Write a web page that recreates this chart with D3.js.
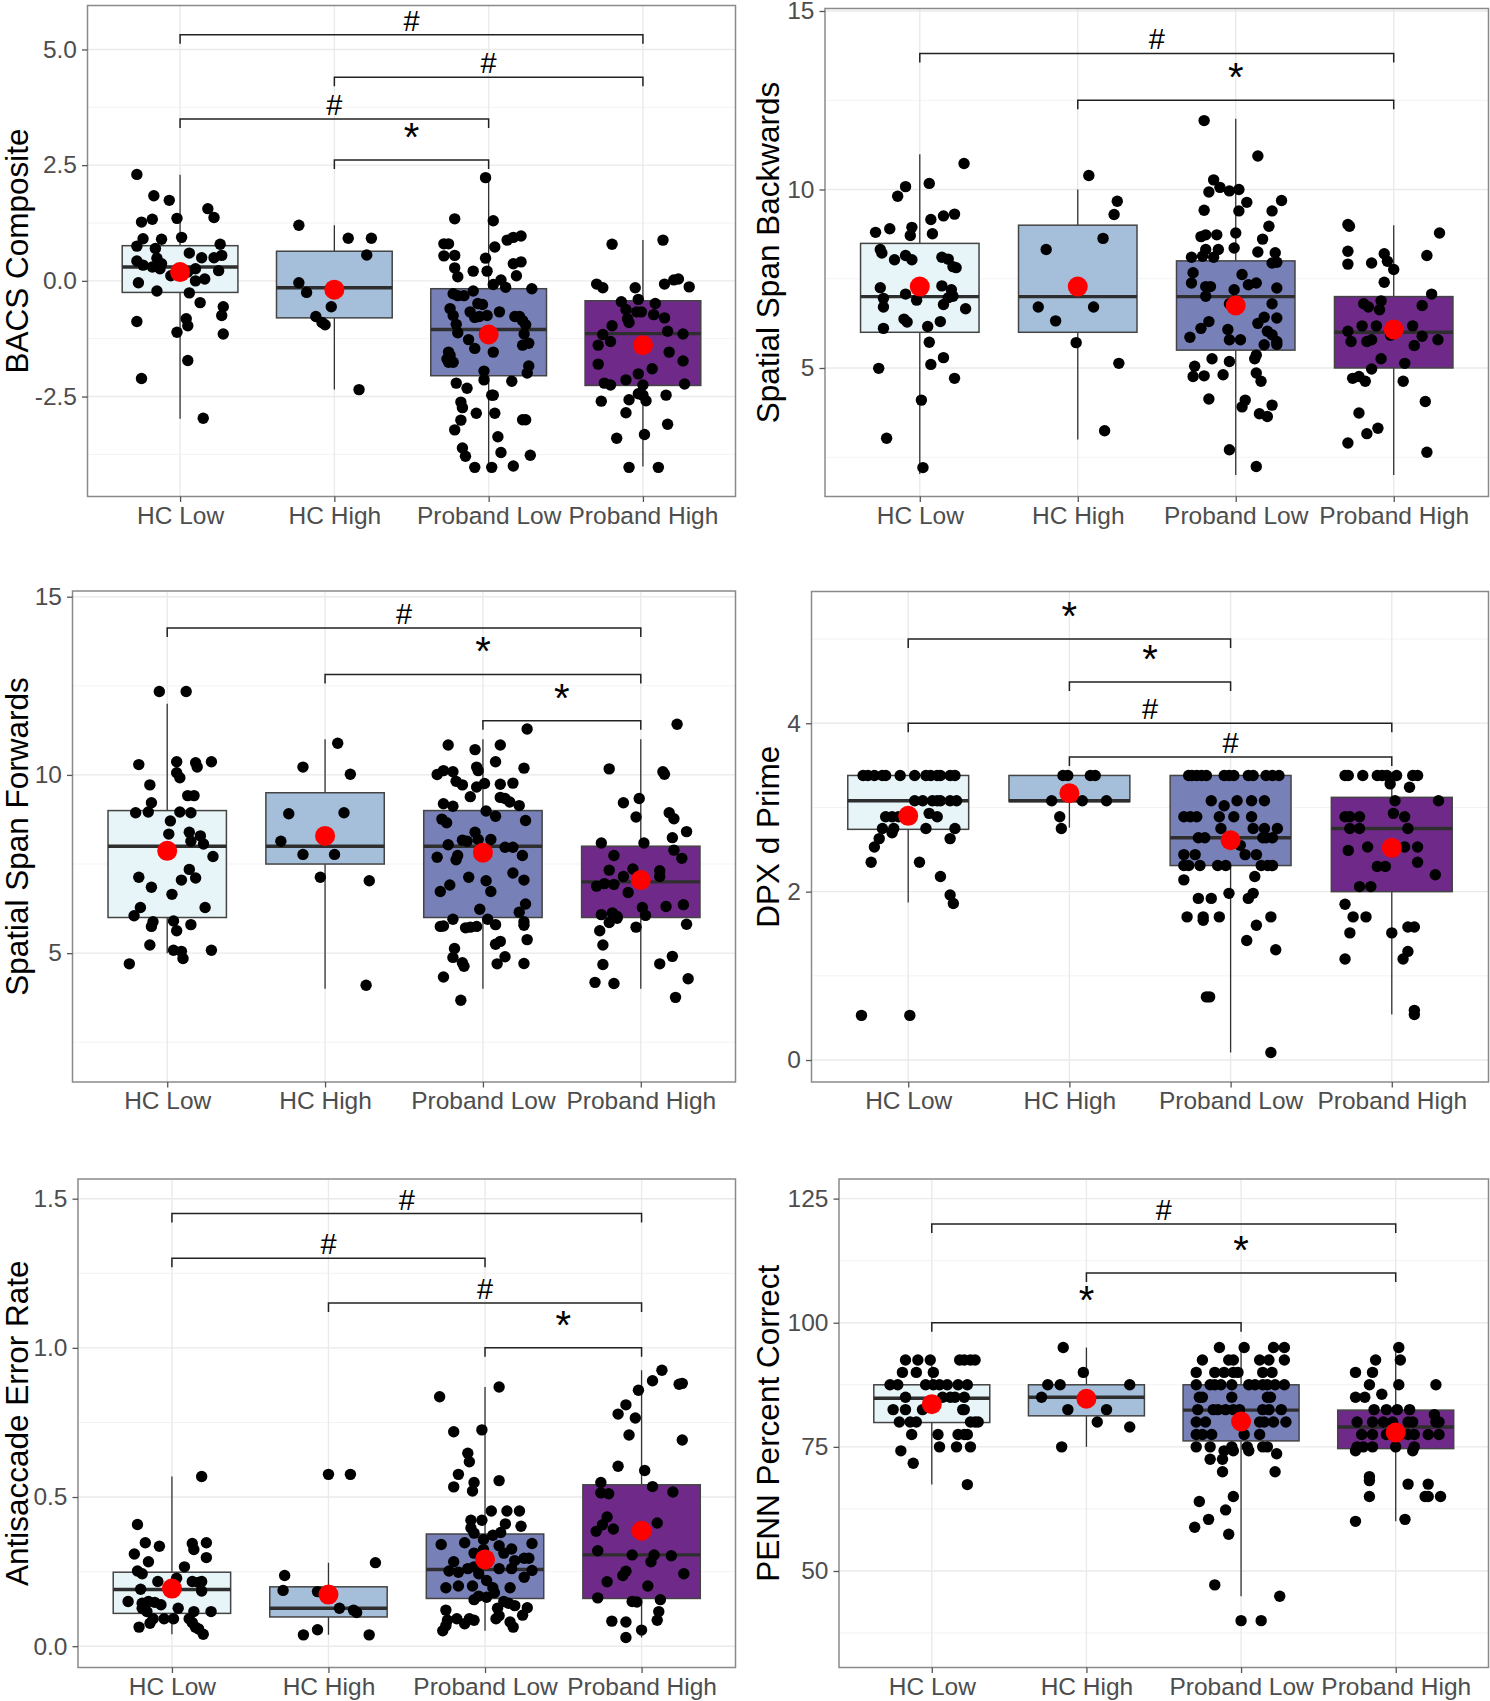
<!DOCTYPE html>
<html>
<head>
<meta charset="utf-8">
<script src="https://cdn.jsdelivr.net/npm/d3@7"></script>
<style>
html,body{margin:0;padding:0;background:#fff;}
svg{display:block;font-family:"Liberation Sans",Arial,Helvetica,sans-serif;}
</style>
</head>
<body>
<svg id="chart" width="1490" height="1701"></svg>
<script>
// ---------------- DATA ----------------
const categories = ["HC Low", "HC High", "Proband Low", "Proband High"];
const groupFills = ["#E7F4F8", "#A5BFDB", "#7880B8", "#6F2A89"];

// Panel titles
const panelTitles = ["BACS Composite", "Spatial Span Backwards", "Spatial Span Forwards",
  "DPX d Prime", "Antisaccade Error Rate", "PENN Percent Correct"];

// Box stats per group: [lowerWhisker, q1, median, q3, upperWhisker, mean]
// Points per group: [jitter (in category units), value]

// ---- Panel 1: BACS Composite ----
const bacsDomain = [-4.66, 5.95];
const bacsTicks = [-2.5, 0, 2.5, 5];
const bacsTickLabels = ["-2.5", "0.0", "2.5", "5.0"];
const bacsBoxStats = [
  [-2.98, -0.25, 0.30, 0.76, 2.29, 0.19],
  [-2.35, -0.80, -0.15, 0.64, 1.20, -0.19],
  [-4.01, -2.05, -1.05, -0.17, 2.21, -1.16],
  [-4.01, -2.26, -1.14, -0.43, 0.88, -1.39]
];
const bacsBrackets = [[0, 3, 5.32, "#"], [1, 3, 4.40, "#"], [0, 2, 3.50, "#"], [1, 2, 2.61, "*"]];
const bacsHCLow = [[-0.28,2.30],[-0.17,1.84],[-0.07,1.74],[0.18,1.56],[0.22,1.37],[-0.25,1.27],[-0.18,1.33],[-0.02,1.35],
  [-0.24,0.91],[-0.12,0.90],[0.01,0.94],[-0.28,0.75],[-0.16,0.70],[0.26,0.79],[0.06,0.60],[-0.28,0.43],
  [-0.15,0.49],[0.14,0.50],[0.22,0.50],[0.27,0.55],[-0.24,0.34],[-0.18,0.30],[-0.12,0.37],[-0.13,0.26],
  [0.25,0.22],[-0.27,-0.04],[-0.15,-0.22],[0.06,-0.26],[0.10,0.00],[0.16,0.04],[0.13,-0.47],[0.28,-0.56],
  [0.27,-0.75],[-0.28,-0.88],[0.04,-0.82],[0.05,-0.97],[-0.02,-1.11],[0.28,-1.15],[0.05,-1.72],[-0.25,-2.11],
  [0.15,-2.97],[-0.06,0.11],[0.05,0.19],[0.10,0.26]];
const bacsHCHigh = [[-0.23,1.20],[0.09,0.92],[0.24,0.92],[0.21,0.56],[-0.23,-0.04],[-0.18,-0.25],[-0.12,-0.77],
  [-0.08,-0.90],[-0.06,-0.95],[-0.02,-0.56],[0.16,-2.35]];
const bacsProbandLow = [[-0.02,2.23],[-0.22,1.34],[0.03,1.30],[-0.29,0.80],[-0.26,0.80],[0.04,0.73],[0.12,0.88],[0.16,0.94],
  [0.21,0.97],[-0.29,0.54],[-0.22,0.55],[-0.02,0.49],[-0.10,0.21],[-0.01,0.21],[0.16,0.37],[0.21,0.41],
  [-0.22,0.28],[-0.20,0.09],[0.18,0.11],[0.08,0.02],[0.03,-0.08],[0.11,-0.14],[0.28,-0.17],[-0.10,-0.22],
  [-0.23,-0.28],[-0.20,-0.32],[-0.16,-0.32],[-0.07,-0.49],[-0.04,-0.51],[-0.12,-0.67],[-0.25,-0.60],[-0.23,-0.75],
  [-0.09,-0.79],[-0.06,-0.77],[-0.01,-0.75],[0.07,-0.67],[0.17,-0.77],[0.20,-0.77],[0.22,-0.86],[0.24,-0.95],
  [-0.21,-0.94],[-0.20,-1.12],[0.23,-1.15],[-0.13,-1.27],[0.22,-1.39],[0.26,-1.35],[-0.09,-1.46],[-0.26,-1.54],
  [-0.25,-1.61],[-0.27,-1.69],[-0.26,-1.76],[-0.23,-1.76],[0.03,-1.54],[0.26,-1.84],[-0.03,-1.95],[0.25,-1.99],
  [-0.03,-2.14],[0.15,-2.17],[-0.21,-2.21],[-0.14,-2.32],[0.02,-2.47],[0.03,-2.47],[-0.18,-2.62],[-0.17,-2.74],
  [-0.08,-2.86],[0.04,-2.86],[0.22,-3.00],[0.24,-3.00],[-0.18,-3.01],[-0.22,-3.22],[0.06,-3.37],[-0.17,-3.61],
  [-0.15,-3.79],[0.08,-3.71],[0.27,-3.77],[-0.09,-4.03],[0.02,-4.03],[0.16,-4.00]];
const bacsProbandHigh = [[-0.20,0.79],[0.13,0.88],[-0.30,-0.07],[-0.26,-0.15],[-0.05,-0.15],[0.14,-0.07],[0.20,0.02],[0.23,0.04],
  [0.30,-0.13],[-0.14,-0.45],[-0.03,-0.40],[0.08,-0.49],[-0.11,-0.62],[-0.09,-0.90],[-0.04,-0.67],[-0.01,-0.67],
  [0.07,-0.73],[0.14,-0.80],[-0.26,-1.16],[-0.21,-1.31],[-0.29,-1.39],[-0.20,-0.97],[-0.10,-0.82],[0.16,-1.09],
  [0.26,-1.15],[0.17,-1.54],[-0.29,-1.80],[0.26,-1.73],[0.06,-1.90],[-0.03,-2.01],[-0.11,-2.14],[-0.25,-2.21],
  [-0.21,-2.25],[0.00,-2.25],[0.27,-2.23],[-0.03,-2.44],[0.00,-2.47],[0.02,-2.59],[0.15,-2.47],[-0.27,-2.60],
  [-0.09,-2.57],[-0.11,-2.85],[0.16,-3.10],[-0.17,-3.40],[0.01,-3.32],[-0.09,-4.03],[0.10,-4.03]];

// ---- Panel 2: Spatial Span Backwards ----
const ssbDomain = [1.40, 15.07];
const ssbTicks = [5, 10, 15];
const ssbTickLabels = ["5", "10", "15"];
const ssbBoxStats = [
  [2.03, 6.0, 7.0, 8.49, 10.99, 7.28],
  [3.0, 6.0, 7.0, 9.0, 10.0, 7.28],
  [2.0, 5.5, 7.0, 8.0, 11.98, 6.75],
  [2.0, 5.0, 6.0, 7.0, 9.0, 6.08]
];
const ssbBrackets = [[0, 3, 13.81, "#"], [1, 3, 12.50, "*"]];
const ssbHCLow = [[0.28,10.73],[0.06,10.17],[-0.09,10.08],[-0.14,9.81],[-0.28,8.80],[-0.19,8.90],[-0.05,8.94],[-0.06,8.71],
  [0.08,8.76],[0.07,9.16],[0.15,9.26],[0.22,9.31],[-0.25,8.32],[-0.24,8.22],[-0.16,8.03],[-0.09,8.15],
  [-0.05,8.03],[0.14,8.10],[0.18,8.05],[0.21,7.84],[0.23,7.81],[-0.25,7.25],[-0.09,7.07],[-0.02,6.90],
  [0.14,7.30],[0.20,7.19],[0.21,7.01],[0.18,6.97],[0.15,6.78],[-0.23,6.95],[-0.23,6.71],[0.29,6.66],
  [-0.10,6.37],[-0.08,6.29],[0.13,6.30],[-0.23,6.11],[0.05,6.16],[0.06,5.72],[0.07,5.10],[0.15,5.29],
  [-0.26,4.99],[0.22,4.71],[0.01,4.10],[-0.21,3.03],[0.02,2.21]];
const ssbHCHigh = [[0.07,10.39],[0.25,9.67],[0.23,9.30],[0.16,8.63],[-0.20,8.32],[-0.25,6.71],[0.10,6.71],[-0.14,6.32],
  [-0.01,5.71],[0.26,5.13],[0.17,3.24]];
const ssbProbandLow = [[-0.20,11.93],[0.14,10.94],[-0.14,10.27],[-0.10,10.06],[-0.17,9.93],[-0.04,9.96],[0.02,10.00],[0.07,9.64],
  [0.29,9.69],[-0.20,9.42],[0.02,9.40],[0.23,9.40],[0.21,8.97],[-0.22,8.68],[-0.19,8.73],[-0.12,8.73],
  [0.00,8.78],[0.17,8.61],[-0.19,8.32],[-0.11,8.32],[-0.01,8.36],[0.14,8.25],[0.25,8.23],[-0.28,8.10],
  [-0.21,8.13],[-0.14,8.10],[0.23,7.94],[0.26,7.96],[-0.27,7.67],[0.04,7.62],[-0.28,7.38],[-0.19,7.28],
  [-0.16,7.28],[-0.01,7.19],[0.08,7.33],[0.13,7.38],[0.26,7.24],[-0.19,7.01],[0.23,6.80],[-0.04,6.80],
  [-0.17,6.30],[-0.22,6.11],[0.14,6.25],[0.18,6.42],[0.26,6.40],[0.20,6.03],[0.23,5.93],[0.26,5.74],
  [0.18,5.65],[-0.05,6.08],[-0.29,5.86],[-0.04,5.79],[0.03,5.79],[0.26,5.66],[-0.15,5.26],[-0.04,5.18],
  [0.12,5.26],[0.13,5.36],[-0.26,5.05],[-0.27,4.76],[-0.20,4.78],[-0.08,4.81],[0.13,4.86],[0.16,4.63],
  [-0.17,4.13],[0.06,4.10],[0.04,3.91],[0.15,3.72],[0.20,3.64],[0.23,3.96],[-0.04,2.71],[0.13,2.24]];
const ssbProbandHigh = [[-0.29,9.02],[-0.28,8.97],[0.29,8.78],[-0.29,8.27],[-0.29,7.91],[-0.14,7.94],[-0.06,8.20],[-0.04,7.99],
  [0.00,7.76],[0.21,8.15],[-0.06,7.40],[-0.19,6.80],[-0.16,6.71],[-0.09,6.63],[-0.08,6.88],[0.24,7.07],
  [0.18,6.75],[-0.29,6.03],[-0.20,6.18],[-0.11,6.18],[0.12,6.18],[-0.27,5.74],[-0.17,5.74],[-0.14,5.79],
  [-0.02,5.92],[0.18,5.89],[0.28,5.79],[0.13,5.63],[-0.08,5.26],[-0.14,4.97],[0.07,5.13],[-0.26,4.71],
  [-0.22,4.76],[-0.18,4.63],[0.06,4.63],[0.20,4.06],[-0.22,3.74],[-0.17,3.16],[-0.10,3.31],[-0.29,2.90],
  [0.21,2.64]];

// ---- Panel 3: Spatial Span Forwards ----
const ssfDomain = [1.385, 15.16];
const ssfTicks = [5, 10, 15];
const ssfTickLabels = ["5", "10", "15"];
const ssfBoxStats = [
  [5.0, 6.0, 8.0, 9.0, 12.0, 7.87],
  [4.0, 7.5, 8.0, 9.5, 11.0, 8.29],
  [4.0, 6.0, 8.0, 9.0, 11.0, 7.82],
  [4.0, 6.0, 7.0, 8.0, 11.0, 7.05]
];
const ssfBrackets = [[0, 3, 14.12, "#"], [1, 3, 12.82, "*"], [2, 3, 11.52, "*"]];
const ssfHCLow = [[-0.05,12.34],[0.12,12.34],[-0.18,10.29],[0.06,10.37],[0.18,10.34],[0.28,10.37],[0.19,10.22],[0.06,10.06],
  [0.08,9.92],[-0.11,9.72],[0.13,9.42],[0.17,9.42],[-0.10,9.22],[-0.20,8.94],[-0.12,8.96],[0.08,8.96],
  [0.15,8.94],[0.02,8.71],[0.01,8.34],[0.14,8.39],[0.21,8.29],[0.15,8.14],[0.23,8.06],[0.29,7.71],
  [0.14,7.35],[-0.18,7.13],[0.09,7.05],[0.18,7.11],[-0.10,6.85],[0.03,6.65],[-0.17,6.28],[0.24,6.28],
  [-0.21,6.05],[-0.09,5.88],[-0.10,5.75],[0.04,5.90],[0.06,5.63],[0.15,5.80],[-0.11,5.23],[0.04,5.08],
  [0.09,5.05],[0.10,4.85],[0.28,5.08],[-0.24,4.70]];
const ssfHCHigh = [[0.08,10.89],[-0.14,10.22],[0.16,10.02],[-0.23,8.91],[0.12,8.94],[-0.28,8.14],[-0.14,7.77],[0.06,7.77],
  [-0.03,7.13],[0.28,7.03],[0.26,4.10]];
const ssfProbandLow = [[0.28,11.29],[-0.22,10.84],[0.11,10.84],[-0.05,10.71],[0.08,10.37],[-0.29,10.01],[-0.25,10.12],[-0.19,10.09],
  [-0.04,10.22],[-0.03,10.12],[0.26,10.19],[-0.17,9.82],[-0.13,9.72],[-0.04,9.66],[0.01,9.76],[0.11,9.74],
  [0.19,9.77],[-0.08,9.39],[0.11,9.37],[0.14,9.34],[0.17,9.24],[-0.25,9.19],[-0.19,9.12],[0.23,9.14],
  [0.02,8.99],[0.08,8.84],[-0.26,8.76],[-0.23,8.66],[0.27,8.72],[-0.05,8.39],[-0.13,8.17],[-0.10,8.14],
  [-0.03,8.19],[0.05,8.19],[0.14,7.97],[0.19,7.97],[-0.22,8.04],[-0.16,7.74],[-0.17,7.62],[0.25,7.74],
  [-0.29,7.69],[0.19,7.25],[-0.09,7.13],[0.02,7.03],[0.26,7.05],[-0.21,6.91],[-0.27,6.73],[0.05,6.73],
  [0.27,6.38],[0.23,6.15],[-0.02,6.23],[0.03,5.95],[0.08,5.80],[0.26,5.78],[0.26,5.88],[-0.27,5.75],
  [-0.25,5.76],[-0.19,5.95],[-0.11,5.71],[-0.08,5.73],[-0.04,5.75],[0.08,5.25],[0.11,5.33],[0.28,5.38],
  [-0.18,5.13],[-0.19,4.88],[-0.13,4.73],[-0.12,4.63],[0.14,4.90],[0.09,4.70],[0.26,4.71],[-0.25,4.33],
  [-0.14,3.68]];
const ssfProbandHigh = [[0.23,11.42],[-0.20,10.17],[0.14,10.09],[0.15,10.02],[-0.11,9.22],[-0.01,9.34],[-0.03,8.82],[0.18,8.94],
  [0.21,8.77],[0.29,8.41],[0.20,8.24],[-0.25,8.09],[0.02,8.09],[-0.17,7.74],[0.21,7.89],[0.26,7.66],
  [-0.20,7.33],[-0.05,7.36],[0.12,7.31],[-0.23,6.95],[-0.17,6.93],[-0.11,7.15],[-0.08,6.70],[-0.28,6.88],
  [0.12,7.15],[-0.25,6.08],[-0.18,6.13],[-0.15,6.03],[0.01,6.28],[0.03,6.06],[0.16,6.31],[0.27,6.36],
  [-0.20,5.86],[-0.15,5.98],[-0.03,5.73],[-0.26,5.63],[0.29,5.81],[-0.24,5.23],[-0.24,4.68],[0.12,4.70],
  [0.20,4.91],[-0.29,4.18],[-0.17,4.15],[0.30,4.28],[0.22,3.76]];

// ---- Panel 4: DPX d Prime ----
const dpxDomain = [-0.261, 5.565];
const dpxTicks = [0, 2, 4];
const dpxTickLabels = ["0", "2", "4"];
const dpxBoxStats = [
  [1.87, 2.74, 3.08, 3.38, 3.38, 2.90],
  [2.76, 3.07, 3.08, 3.38, 3.38, 3.17],
  [0.09, 2.31, 2.64, 3.38, 3.38, 2.61],
  [0.54, 2.00, 2.75, 3.12, 3.38, 2.52]
];
const dpxBrackets = [[0, 2, 5.00, "*"], [1, 2, 4.49, "*"], [0, 3, 4.00, "#"], [1, 3, 3.60, "#"]];
const dpxHCLow = [[-0.28,3.38],[-0.25,3.38],[-0.21,3.38],[-0.16,3.38],[-0.14,3.38],[-0.05,3.38],[0.04,3.38],[0.11,3.38],
  [0.14,3.38],[0.18,3.38],[0.20,3.38],[0.26,3.38],[0.29,3.38],[0.04,3.08],[0.09,3.08],[0.15,3.08],
  [0.18,3.08],[0.20,3.08],[0.26,3.08],[0.30,3.08],[-0.14,2.89],[-0.10,2.89],[-0.06,2.89],[0.18,2.89],
  [0.13,2.93],[-0.16,2.75],[-0.09,2.75],[0.11,2.75],[0.29,2.75],[-0.10,2.70],[-0.18,2.63],[-0.21,2.53],
  [0.26,2.63],[-0.23,2.35],[0.07,2.35],[0.20,2.18],[0.26,1.96],[0.28,1.86],[-0.29,0.53],[0.01,0.53]];
const dpxHCHigh = [[-0.04,3.38],[-0.01,3.38],[0.13,3.38],[0.16,3.38],[-0.11,3.08],[0.08,3.08],[0.23,3.08],[-0.06,2.89],
  [-0.05,2.75]];
const dpxProbandLow = [[-0.26,3.38],[-0.24,3.38],[-0.21,3.38],[-0.18,3.38],[-0.15,3.38],[-0.04,3.38],[-0.01,3.38],[0.02,3.38],
  [0.11,3.38],[0.14,3.38],[0.22,3.38],[0.26,3.38],[0.30,3.38],[-0.12,3.08],[0.04,3.08],[0.13,3.08],
  [0.21,3.08],[-0.29,2.89],[-0.25,2.89],[-0.21,2.89],[-0.07,2.89],[0.02,2.89],[0.13,2.89],[-0.04,3.02],
  [-0.06,2.75],[0.14,2.75],[0.21,2.75],[0.29,2.75],[-0.20,2.64],[-0.16,2.64],[0.20,2.64],[0.26,2.64],
  [0.22,2.64],[0.06,2.55],[-0.29,2.44],[-0.22,2.44],[0.09,2.44],[0.16,2.44],[-0.29,2.31],[-0.26,2.31],
  [-0.19,2.31],[-0.08,2.31],[-0.03,2.31],[0.19,2.31],[0.23,2.31],[0.26,2.31],[0.15,2.18],[-0.29,2.14],
  [-0.01,1.98],[0.14,1.98],[-0.20,1.92],[-0.12,1.92],[0.11,1.92],[-0.27,1.70],[-0.17,1.70],[-0.07,1.70],
  [0.25,1.70],[-0.17,1.66],[0.16,1.60],[0.10,1.42],[0.28,1.31],[-0.15,0.75],[-0.13,0.75],[0.25,0.09]];
const dpxProbandHigh = [[-0.29,3.38],[-0.27,3.38],[-0.18,3.38],[-0.09,3.38],[-0.06,3.38],[-0.03,3.38],[0.03,3.38],[0.13,3.38],
  [0.16,3.38],[-0.01,3.28],[0.11,3.24],[0.02,3.08],[0.29,3.08],[-0.29,2.89],[-0.26,2.89],[-0.20,2.89],
  [0.08,2.89],[0.01,2.93],[-0.26,2.75],[-0.20,2.75],[0.10,2.75],[-0.15,2.53],[0.08,2.53],[0.16,2.53],
  [-0.27,2.49],[0.16,2.35],[-0.09,2.30],[-0.04,2.30],[0.27,2.20],[-0.20,2.06],[-0.13,2.06],[-0.29,1.85],
  [-0.24,1.70],[-0.16,1.70],[0.10,1.58],[0.14,1.58],[-0.26,1.51],[0.00,1.51],[0.10,1.29],[-0.29,1.20],
  [0.07,1.20],[0.14,0.59],[0.14,0.54]];

// ---- Panel 5: Antisaccade Error Rate ----
const antiDomain = [-0.0714, 1.566];
const antiTicks = [0, 0.5, 1.0, 1.5];
const antiTickLabels = ["0.0", "0.5", "1.0", "1.5"];
const antiBoxStats = [
  [0.040, 0.110, 0.190, 0.248, 0.569, 0.193],
  [0.038, 0.098, 0.127, 0.199, 0.280, 0.173],
  [0.052, 0.160, 0.257, 0.376, 0.869, 0.291],
  [0.029, 0.160, 0.306, 0.541, 0.925, 0.387]
];
const antiBrackets = [[0, 3, 1.45, "#"], [0, 2, 1.30, "#"], [1, 3, 1.15, "#"], [2, 3, 1.00, "*"]];
const antiHCLow = [[0.19,0.569],[-0.22,0.408],[-0.17,0.347],[-0.08,0.335],[0.13,0.344],[0.22,0.347],[0.14,0.324],[-0.24,0.309],
  [0.22,0.297],[-0.15,0.283],[0.08,0.266],[-0.22,0.252],[-0.19,0.243],[-0.09,0.217],[0.03,0.228],[0.13,0.217],
  [0.19,0.217],[0.17,0.214],[-0.20,0.191],[0.19,0.185],[-0.28,0.150],[-0.19,0.144],[-0.15,0.150],[-0.11,0.147],
  [-0.07,0.139],[-0.19,0.127],[-0.16,0.116],[0.04,0.127],[0.14,0.116],[0.25,0.116],[-0.12,0.092],[-0.05,0.092],
  [0.01,0.092],[0.11,0.092],[0.13,0.079],[-0.21,0.064],[-0.14,0.077],[0.15,0.064],[0.17,0.058],[0.20,0.040]];
const antiHCHigh = [[0.00,0.576],[0.14,0.576],[0.30,0.280],[-0.28,0.237],[-0.29,0.187],[-0.07,0.183],[0.07,0.127],[0.16,0.121],
  [0.18,0.113],[-0.07,0.055],[-0.16,0.038],[0.26,0.038]];
const antiProbandLow = [[0.09,0.869],[-0.29,0.836],[-0.20,0.719],[-0.02,0.725],[-0.11,0.647],[-0.10,0.618],[-0.17,0.576],[-0.07,0.549],
  [-0.20,0.534],[-0.08,0.520],[0.09,0.555],[0.04,0.453],[0.14,0.453],[0.22,0.453],[-0.09,0.422],[-0.02,0.422],
  [0.13,0.410],[0.23,0.402],[-0.09,0.396],[-0.07,0.379],[0.05,0.372],[0.10,0.381],[-0.28,0.341],[-0.13,0.347],
  [-0.01,0.358],[0.09,0.337],[0.30,0.344],[-0.01,0.324],[-0.07,0.312],[0.12,0.312],[0.17,0.326],[0.19,0.287],
  [0.25,0.295],[0.28,0.295],[-0.20,0.283],[-0.11,0.260],[-0.23,0.252],[-0.17,0.248],[-0.07,0.266],[-0.04,0.243],
  [0.09,0.260],[0.17,0.260],[0.30,0.254],[0.25,0.231],[-0.25,0.196],[-0.17,0.202],[-0.08,0.202],[0.01,0.220],
  [0.05,0.196],[0.16,0.196],[0.06,0.179],[-0.04,0.168],[-0.07,0.156],[0.01,0.164],[0.12,0.150],[0.19,0.136],
  [0.27,0.129],[-0.25,0.121],[0.08,0.127],[0.15,0.144],[-0.24,0.087],[-0.18,0.092],[-0.13,0.075],[-0.07,0.087],
  [-0.10,0.092],[0.07,0.092],[0.16,0.081],[0.18,0.064],[0.24,0.104],[-0.25,0.069],[-0.27,0.052],[0.09,0.102]];
const antiProbandHigh = [[0.13,0.925],[0.07,0.890],[0.26,0.881],[0.24,0.878],[-0.02,0.858],[-0.10,0.809],[-0.15,0.778],[-0.04,0.765],
  [-0.08,0.708],[0.26,0.691],[-0.15,0.603],[0.02,0.589],[-0.26,0.549],[0.07,0.535],[-0.26,0.514],[-0.21,0.511],
  [0.20,0.517],[-0.22,0.433],[0.10,0.413],[-0.25,0.407],[-0.29,0.385],[-0.18,0.393],[-0.28,0.320],[-0.06,0.306],
  [0.08,0.306],[0.19,0.303],[0.06,0.283],[0.27,0.243],[-0.10,0.251],[-0.12,0.237],[-0.22,0.216],[0.04,0.202],
  [-0.28,0.162],[-0.06,0.150],[-0.03,0.148],[0.12,0.156],[0.11,0.116],[0.10,0.087],[-0.19,0.084],[-0.10,0.081],
  [0.00,0.054],[-0.10,0.029]];

// ---- Panel 6: PENN Percent Correct ----
const pennDomain = [30.56, 128.95];
const pennTicks = [50, 75, 100, 125];
const pennTickLabels = ["50", "75", "100", "125"];
const pennBoxStats = [
  [67.4, 79.9, 84.8, 87.5, 92.5, 83.6],
  [75.0, 81.25, 85.0, 87.5, 95.0, 84.7],
  [44.9, 76.2, 82.4, 87.5, 95.0, 80.1],
  [60.0, 74.65, 79.0, 82.4, 95.0, 77.9]
];
const pennBrackets = [[0, 3, 119.9, "#"], [1, 3, 110.0, "*"], [0, 2, 100.0, "*"]];
const pennHCLow = [[-0.17,92.5],[-0.09,92.5],[-0.01,92.5],[0.18,92.5],[0.21,92.5],[0.25,92.5],[0.28,92.5],
  [-0.19,90],[-0.10,90],[0.01,90],
  [-0.27,87.5],[-0.22,87.5],[-0.04,87.5],[0.01,87.5],[0.05,87.5],[0.10,87.5],[0.17,87.5],[0.23,87.5],
  [-0.17,85],[0.07,85],[0.12,85],[0.15,85],[0.21,85],
  [-0.25,82.5],[-0.17,82.5],[-0.06,82.5],[0.20,82.5],[0.21,82.5],
  [-0.21,80],[-0.14,80],[-0.10,80],[0.25,80],[0.28,80],[0.30,80],
  [-0.13,77.5],[0.04,77.5],[0.17,77.5],[0.21,77.5],[0.23,77.5],
  [0.05,75],[0.16,75],[0.25,75],[-0.20,74.2],[-0.12,71.7],[0.23,67.4]];
const pennHCHigh = [[-0.15,95],[-0.02,90],[-0.25,87.5],[-0.17,87.5],[0.28,87.5],[-0.29,85],[-0.12,82.5],[0.13,82.5],
  [0.07,80],[0.28,79],[-0.16,75],[0.00,84.7]];
const pennProbandLow = [[-0.14,95],[0.02,95],[0.21,95],[0.28,95],
  [-0.25,92.5],[-0.08,92.5],[-0.05,92.5],[0.12,92.5],[0.18,92.5],[0.28,92.5],
  [-0.29,90],[-0.17,90],[-0.11,90],[-0.05,90],[-0.02,90],[0.14,90],[0.20,90],
  [-0.29,87.5],[-0.20,87.5],[-0.17,87.5],[-0.13,87.5],[-0.06,87.5],[0.05,87.5],[0.09,87.5],[0.14,87.5],[0.17,87.5],[0.22,87.5],[0.28,87.5],
  [-0.27,85],[-0.25,85],[-0.06,85],[0.17,85],[0.19,85],
  [-0.28,82.5],[-0.18,82.5],[-0.15,82.5],[-0.10,82.5],[-0.05,82.5],[-0.01,82.5],[0.14,82.5],[0.18,82.5],[0.26,82.5],
  [-0.29,80],[-0.23,80],[0.12,80],[0.15,80],[0.21,80],[0.29,80],
  [-0.29,77.5],[-0.25,77.5],[-0.19,77.5],[0.02,77.5],[0.12,77.5],
  [-0.29,75],[-0.20,75],[-0.06,75],[0.04,75],[0.14,75],[0.17,75],
  [-0.11,74.2],[-0.05,74.2],[0.05,74.2],[0.23,73.6],[-0.20,72.5],[-0.12,72.5],[-0.12,70],[0.22,70],
  [-0.05,65],[-0.27,64],[-0.10,62.3],[-0.21,60.4],[-0.30,58.8],[-0.08,57.4],[-0.17,47.2],[0.25,44.9],
  [0.00,40],[0.13,40]];
const pennProbandHigh = [[0.02,95],[-0.13,92.5],[0.03,92.5],[-0.26,90],[-0.15,90],[-0.17,87.5],[0.02,87.5],[0.26,87.5],
  [-0.26,85],[-0.20,85],[-0.09,85.6],[-0.14,82.5],[-0.06,82.5],[0.01,82.5],[0.09,82.5],[0.25,81.5],
  [-0.25,80],[-0.15,80],[-0.08,80],[-0.02,80],[0.08,80],[0.11,80],[0.26,80],[0.28,80],
  [-0.22,77.5],[-0.15,77.5],[-0.06,77.5],[-0.02,77.5],[0.03,77.5],[0.08,77.5],[0.12,77.5],[0.21,77.5],[0.28,77.5],
  [-0.25,75],[-0.21,75],[-0.15,75],[0.00,75],[0.12,75],[-0.26,74.2],[0.11,74.2],
  [-0.17,69],[-0.17,68.2],[0.08,67.5],[0.21,67.5],[-0.17,65],[0.19,65],[0.21,65],[0.29,65],
  [0.06,60.4],[-0.26,60]];

// ---------------- PANEL TABLE (built from the arrays) ----------------
const panels = [
  {title: panelTitles[0], domain: bacsDomain, ticks: bacsTicks, tickLabels: bacsTickLabels, box: bacsBoxStats,
   brackets: bacsBrackets, points: [bacsHCLow, bacsHCHigh, bacsProbandLow, bacsProbandHigh]},
  {title: panelTitles[1], domain: ssbDomain, ticks: ssbTicks, tickLabels: ssbTickLabels, box: ssbBoxStats,
   brackets: ssbBrackets, points: [ssbHCLow, ssbHCHigh, ssbProbandLow, ssbProbandHigh]},
  {title: panelTitles[2], domain: ssfDomain, ticks: ssfTicks, tickLabels: ssfTickLabels, box: ssfBoxStats,
   brackets: ssfBrackets, points: [ssfHCLow, ssfHCHigh, ssfProbandLow, ssfProbandHigh]},
  {title: panelTitles[3], domain: dpxDomain, ticks: dpxTicks, tickLabels: dpxTickLabels, box: dpxBoxStats,
   brackets: dpxBrackets, points: [dpxHCLow, dpxHCHigh, dpxProbandLow, dpxProbandHigh]},
  {title: panelTitles[4], domain: antiDomain, ticks: antiTicks, tickLabels: antiTickLabels, box: antiBoxStats,
   brackets: antiBrackets, points: [antiHCLow, antiHCHigh, antiProbandLow, antiProbandHigh]},
  {title: panelTitles[5], domain: pennDomain, ticks: pennTicks, tickLabels: pennTickLabels, box: pennBoxStats,
   brackets: pennBrackets, points: [pennHCLow, pennHCHigh, pennProbandLow, pennProbandHigh]}
];

// Layout (pixel rectangles of each plotting panel)
const layout = [
  {x0: 87.5, x1: 735.5, y0: 5.5, y1: 496.5, titleX: 28},
  {x0: 825, x1: 1488.5, y0: 8.5, y1: 496.5, titleX: 779},
  {x0: 72.5, x1: 735.5, y0: 591, y1: 1082, titleX: 28},
  {x0: 811.5, x1: 1488.5, y0: 591.5, y1: 1082, titleX: 779},
  {x0: 78, x1: 735.5, y0: 1179, y1: 1667.5, titleX: 28},
  {x0: 839, x1: 1488.5, y0: 1179, y1: 1667.5, titleX: 779}
];

// ---------------- DRAW ----------------
const svg = d3.select("#chart");
const FONT = '"Liberation Sans", Arial, Helvetica, sans-serif';

panels.forEach((p, i) => {
  const L = layout[i];
  const g = svg.append("g");
  const x = d3.scalePoint().domain(categories).range([L.x0, L.x1]).padding(0.6);
  const step = x.step();
  const y = d3.scaleLinear().domain(p.domain).range([L.y1, L.y0]);

  // minor ticks: midpoints between majors, extended one step each side
  const tStep = p.ticks[1] - p.ticks[0];
  const minor = [p.ticks[0] - tStep / 2].concat(p.ticks.map(t => t + tStep / 2))
    .filter(v => v > p.domain[0] && v < p.domain[1]);

  const clip = "clip" + i;
  svg.append("clipPath").attr("id", clip).append("rect")
    .attr("x", L.x0).attr("y", L.y0).attr("width", L.x1 - L.x0).attr("height", L.y1 - L.y0);

  const plot = g.append("g").attr("clip-path", `url(#${clip})`);
  plot.append("rect").attr("x", L.x0).attr("y", L.y0).attr("width", L.x1 - L.x0).attr("height", L.y1 - L.y0)
    .attr("fill", "#fff");

  // grid lines
  plot.selectAll(".minor").data(minor).enter().append("line")
    .attr("x1", L.x0).attr("x2", L.x1).attr("y1", d => y(d)).attr("y2", d => y(d))
    .attr("stroke", "#F3F3F3").attr("stroke-width", 1);
  plot.selectAll(".major").data(p.ticks).enter().append("line")
    .attr("x1", L.x0).attr("x2", L.x1).attr("y1", d => y(d)).attr("y2", d => y(d))
    .attr("stroke", "#EAEAEA").attr("stroke-width", 1.4);
  plot.selectAll(".vmajor").data(categories).enter().append("line")
    .attr("x1", d => x(d)).attr("x2", d => x(d)).attr("y1", L.y0).attr("y2", L.y1)
    .attr("stroke", "#EAEAEA").attr("stroke-width", 1.4);

  // boxplots
  const bw = step * 0.75;
  const boxes = plot.selectAll(".box").data(p.box.map((b, k) => ({b, k}))).enter().append("g");
  boxes.append("line").attr("x1", d => x(categories[d.k])).attr("x2", d => x(categories[d.k]))
    .attr("y1", d => y(d.b[0])).attr("y2", d => y(d.b[1])).attr("stroke", "#333").attr("stroke-width", 1.3);
  boxes.append("line").attr("x1", d => x(categories[d.k])).attr("x2", d => x(categories[d.k]))
    .attr("y1", d => y(d.b[3])).attr("y2", d => y(d.b[4])).attr("stroke", "#333").attr("stroke-width", 1.3);
  boxes.append("rect")
    .attr("x", d => x(categories[d.k]) - bw / 2).attr("width", bw)
    .attr("y", d => y(d.b[3])).attr("height", d => Math.max(0.5, y(d.b[1]) - y(d.b[3])))
    .attr("fill", d => groupFills[d.k]).attr("stroke", "#444").attr("stroke-width", 1.5);
  boxes.append("line")
    .attr("x1", d => x(categories[d.k]) - bw / 2).attr("x2", d => x(categories[d.k]) + bw / 2)
    .attr("y1", d => y(d.b[2])).attr("y2", d => y(d.b[2]))
    .attr("stroke", "#2e2e2e").attr("stroke-width", 3.4);

  // jittered points
  p.points.forEach((pts, k) => {
    plot.selectAll(".pt" + k).data(pts).enter().append("circle")
      .attr("cx", d => x(categories[k]) + d[0] * step)
      .attr("cy", d => y(d[1]))
      .attr("r", 5.7).attr("fill", "#000");
  });

  // means
  plot.selectAll(".mean").data(p.box.map((b, k) => ({m: b[5], k}))).enter().append("circle")
    .attr("cx", d => x(categories[d.k])).attr("cy", d => y(d.m))
    .attr("r", 10).attr("fill", "#FF0000");

  // significance brackets
  const legLen = 9;
  p.brackets.forEach(br => {
    const xa = x(categories[br[0]]), xb = x(categories[br[1]]), yy = y(br[2]);
    g.append("path")
      .attr("d", `M${xa},${yy + legLen}V${yy}H${xb}V${yy + legLen}`)
      .attr("fill", "none").attr("stroke", "#222").attr("stroke-width", 1.5);
    const isStar = br[3] === "*";
    g.append("text")
      .attr("x", (xa + xb) / 2)
      .attr("y", isStar ? yy - 9 : yy - 4)
      .attr("text-anchor", "middle")
      .attr("font-family", FONT)
      .attr("font-size", isStar ? 40 : 29)
      .attr("fill", "#000")
      .text(br[3]);
  });

  // panel border
  g.append("rect").attr("x", L.x0).attr("y", L.y0).attr("width", L.x1 - L.x0).attr("height", L.y1 - L.y0)
    .attr("fill", "none").attr("stroke", "#8A8A8A").attr("stroke-width", 1.5);

  // y axis
  const yAxis = d3.axisLeft(y).tickValues(p.ticks).tickFormat((d, j) => p.tickLabels[j])
    .tickSize(5.5).tickPadding(5);
  const ya = g.append("g").attr("transform", `translate(${L.x0},0)`).call(yAxis);
  ya.select(".domain").remove();
  ya.selectAll(".tick line").attr("stroke", "#555").attr("stroke-width", 1.3);
  ya.selectAll(".tick text").attr("fill", "#4D4D4D").attr("font-size", 24.5).attr("font-family", FONT);

  // x axis
  const xAxis = d3.axisBottom(x).tickSize(5.5).tickPadding(4);
  const xa = g.append("g").attr("transform", `translate(0,${L.y1})`).call(xAxis);
  xa.select(".domain").remove();
  xa.selectAll(".tick line").attr("stroke", "#555").attr("stroke-width", 1.3);
  xa.selectAll(".tick text").attr("fill", "#4D4D4D").attr("font-size", 24.5).attr("font-family", FONT)
    .attr("dy", null).attr("y", 27).attr("dominant-baseline", "auto");

  // y title
  g.append("text")
    .attr("transform", `translate(${L.titleX},${(L.y0 + L.y1) / 2}) rotate(-90)`)
    .attr("text-anchor", "middle").attr("font-family", FONT).attr("font-size", 31.5)
    .attr("fill", "#000").text(p.title);
});
</script>
</body>
</html>
